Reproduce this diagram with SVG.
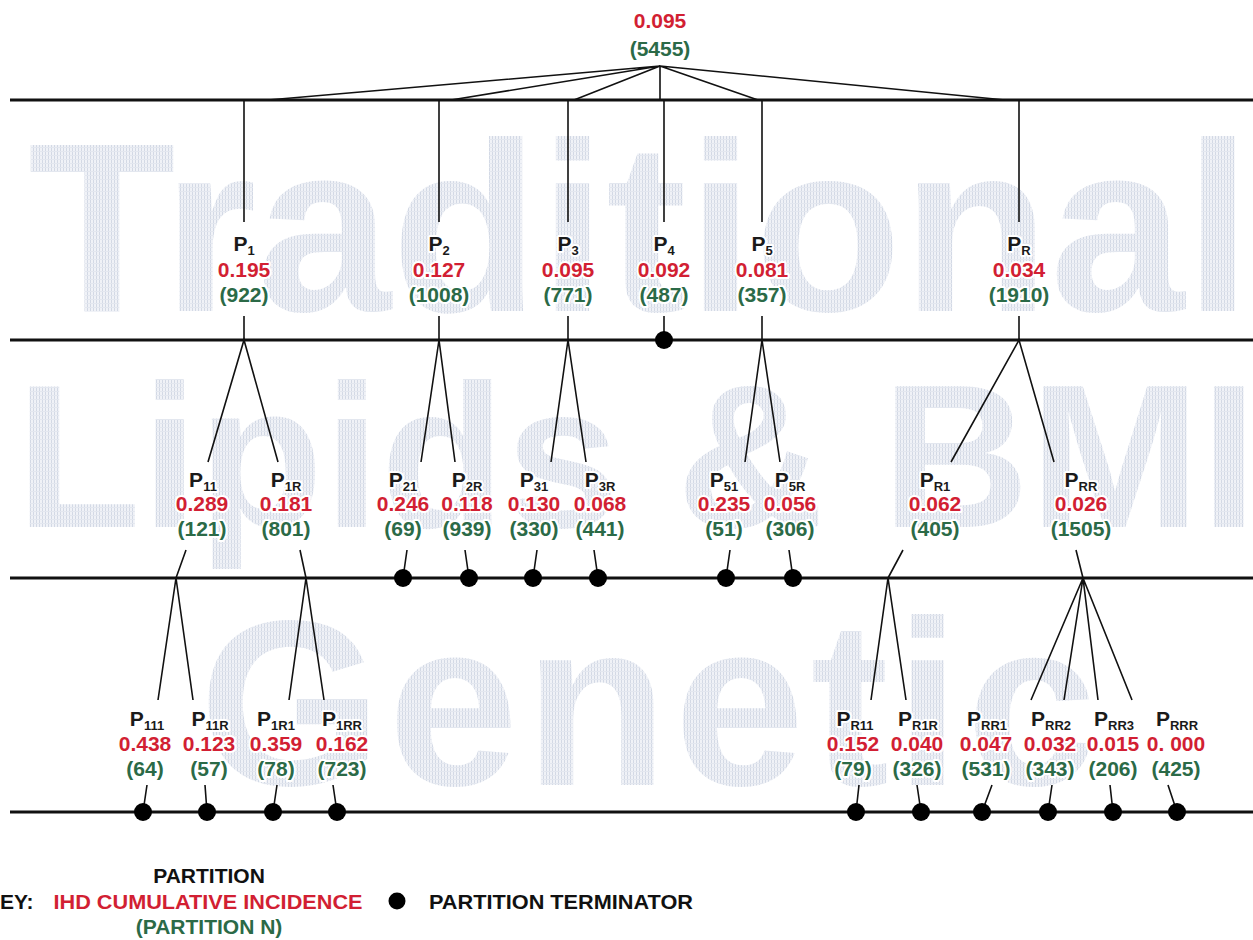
<svg xmlns="http://www.w3.org/2000/svg" width="1253" height="940" viewBox="0 0 1253 940">
<defs>
<pattern id="hatch" width="3" height="4" patternUnits="userSpaceOnUse">
<rect width="3" height="4" fill="#f0f2f7"/>
<rect width="1" height="4" fill="#d3d9e5"/>
<rect y="3" width="3" height="1" fill="#e3e7ef"/>
</pattern>
</defs>
<style>
.wm{font-family:"Liberation Sans",Arial,sans-serif;font-weight:bold;fill:url(#hatch)}
.hl{stroke:#111;stroke-width:3;fill:none}
.ln{stroke:#111;stroke-width:1.6;fill:none}
.dot{fill:#000}
text.t{font-family:"Liberation Sans",Arial,sans-serif;font-weight:bold;text-anchor:middle;stroke:#fff;stroke-width:4;paint-order:stroke;stroke-linejoin:round}
.p{font-size:21px;fill:#1a1a1a}
.r{font-size:21px;fill:#d21f33}
.g{font-size:21px;fill:#2b6a47}
.s{font-size:13px}
.k{font-family:"Liberation Sans",Arial,sans-serif;font-weight:bold;font-size:21px}
</style>
<rect width="1253" height="940" fill="#fff"/>
<g id="watermark">
<text class="wm" x="28" y="311" font-size="242">Traditional</text>
<text class="wm" x="16" y="527" font-size="205">Lipids &amp; BMI</text>
<text class="wm" x="199" y="785" font-size="235" letter-spacing="6">Genetic</text>
</g>
<g id="levels">
<line class="hl" x1="10" y1="100" x2="1253" y2="100"/>
<line class="hl" x1="10" y1="340" x2="1253" y2="340"/>
<line class="hl" x1="10" y1="578" x2="1253" y2="578"/>
<line class="hl" x1="10" y1="812" x2="1253" y2="812"/>
</g>
<g id="connectors">
<path class="ln" d="M660 66L268 100M660 66L451 100M660 66L574 100M660 66V100M660 66L758 100M660 66L1005 100"/>
<path class="ln" d="M244 100V222M439 100V222M568 100V222M664 100V222M762 100V222M1019 100V222"/>
<path class="ln" d="M244 316V340M439 316V340M568 316V340M664 316V340M762 316V340M1019 316V340"/>
<path class="ln" d="M208 462L244 340L278 462M421 462L439 340L455 462M551 462L568 340L586 462M745 462L762 340L780 462M951 462L1019 340L1054 462"/>
<path class="ln" d="M407 550L403 578M465 550L469 578M537 550L533 578M594 550L598 578M730 550L726 578M789 550L793 578"/>
<path class="ln" d="M186 550L176 578M158 700L176 578L193 700M300 550L306 578M289 700L306 578L324 700"/>
<path class="ln" d="M903 550L888 578M871 700L888 578L906 700M1076 550L1083 578M1031 700L1083 578L1064 700M1098 700L1083 578L1132 700"/>
<path class="ln" d="M147 785L143 812M205 785L207 812M277 785L273 812M333 785L337 812M859 785L856 812M917 785L921 812M992 785L982 812M1052 785L1048 812M1110 785L1113 812M1168 785L1177 812"/>
</g>
<g id="terminators">
<circle class="dot" cx="664" cy="340" r="9"/>
<circle class="dot" cx="403" cy="578" r="9"/>
<circle class="dot" cx="469" cy="578" r="9"/>
<circle class="dot" cx="533" cy="578" r="9"/>
<circle class="dot" cx="598" cy="578" r="9"/>
<circle class="dot" cx="726" cy="578" r="9"/>
<circle class="dot" cx="793" cy="578" r="9"/>
<circle class="dot" cx="143" cy="812" r="9"/>
<circle class="dot" cx="207" cy="812" r="9"/>
<circle class="dot" cx="273" cy="812" r="9"/>
<circle class="dot" cx="337" cy="812" r="9"/>
<circle class="dot" cx="856" cy="812" r="9"/>
<circle class="dot" cx="921" cy="812" r="9"/>
<circle class="dot" cx="982" cy="812" r="9"/>
<circle class="dot" cx="1048" cy="812" r="9"/>
<circle class="dot" cx="1113" cy="812" r="9"/>
<circle class="dot" cx="1177" cy="812" r="9"/>
</g>
<g id="root">
<text class="t r" x="660" y="28">0.095</text>
<text class="t g" x="660" y="56">(5455)</text>
</g>
<g id="P1"><text class="t p" x="244" y="251">P<tspan class="s" dy="4">1</tspan></text><text class="t r" x="244" y="277">0.195</text><text class="t g" x="244" y="302">(922)</text></g>
<g id="P2"><text class="t p" x="439" y="251">P<tspan class="s" dy="4">2</tspan></text><text class="t r" x="439" y="277">0.127</text><text class="t g" x="439" y="302">(1008)</text></g>
<g id="P3"><text class="t p" x="568" y="251">P<tspan class="s" dy="4">3</tspan></text><text class="t r" x="568" y="277">0.095</text><text class="t g" x="568" y="302">(771)</text></g>
<g id="P4"><text class="t p" x="664" y="251">P<tspan class="s" dy="4">4</tspan></text><text class="t r" x="664" y="277">0.092</text><text class="t g" x="664" y="302">(487)</text></g>
<g id="P5"><text class="t p" x="762" y="251">P<tspan class="s" dy="4">5</tspan></text><text class="t r" x="762" y="277">0.081</text><text class="t g" x="762" y="302">(357)</text></g>
<g id="PR"><text class="t p" x="1019" y="251">P<tspan class="s" dy="4">R</tspan></text><text class="t r" x="1019" y="277">0.034</text><text class="t g" x="1019" y="302">(1910)</text></g>
<g id="P11"><text class="t p" x="203" y="487">P<tspan class="s" dy="4">11</tspan></text><text class="t r" x="202" y="511">0.289</text><text class="t g" x="202" y="536">(121)</text></g>
<g id="P1R"><text class="t p" x="286" y="487">P<tspan class="s" dy="4">1R</tspan></text><text class="t r" x="286" y="511">0.181</text><text class="t g" x="286" y="536">(801)</text></g>
<g id="P21"><text class="t p" x="403" y="487">P<tspan class="s" dy="4">21</tspan></text><text class="t r" x="403" y="511">0.246</text><text class="t g" x="403" y="536">(69)</text></g>
<g id="P2R"><text class="t p" x="467" y="487">P<tspan class="s" dy="4">2R</tspan></text><text class="t r" x="467" y="511">0.118</text><text class="t g" x="467" y="536">(939)</text></g>
<g id="P31"><text class="t p" x="534" y="487">P<tspan class="s" dy="4">31</tspan></text><text class="t r" x="534" y="511">0.130</text><text class="t g" x="534" y="536">(330)</text></g>
<g id="P3R"><text class="t p" x="600" y="487">P<tspan class="s" dy="4">3R</tspan></text><text class="t r" x="600" y="511">0.068</text><text class="t g" x="600" y="536">(441)</text></g>
<g id="P51"><text class="t p" x="724" y="487">P<tspan class="s" dy="4">51</tspan></text><text class="t r" x="724" y="511">0.235</text><text class="t g" x="724" y="536">(51)</text></g>
<g id="P5R"><text class="t p" x="790" y="487">P<tspan class="s" dy="4">5R</tspan></text><text class="t r" x="790" y="511">0.056</text><text class="t g" x="790" y="536">(306)</text></g>
<g id="PR1"><text class="t p" x="935" y="487">P<tspan class="s" dy="4">R1</tspan></text><text class="t r" x="935" y="511">0.062</text><text class="t g" x="935" y="536">(405)</text></g>
<g id="PRR"><text class="t p" x="1081" y="487">P<tspan class="s" dy="4">RR</tspan></text><text class="t r" x="1081" y="511">0.026</text><text class="t g" x="1081" y="536">(1505)</text></g>
<g id="P111"><text class="t p" x="147" y="726">P<tspan class="s" dy="4">111</tspan></text><text class="t r" x="145" y="751">0.438</text><text class="t g" x="145" y="776">(64)</text></g>
<g id="P11R"><text class="t p" x="210" y="726">P<tspan class="s" dy="4">11R</tspan></text><text class="t r" x="209" y="751">0.123</text><text class="t g" x="209" y="776">(57)</text></g>
<g id="P1R1"><text class="t p" x="276" y="726">P<tspan class="s" dy="4">1R1</tspan></text><text class="t r" x="276" y="751">0.359</text><text class="t g" x="276" y="776">(78)</text></g>
<g id="P1RR"><text class="t p" x="342" y="726">P<tspan class="s" dy="4">1RR</tspan></text><text class="t r" x="342" y="751">0.162</text><text class="t g" x="342" y="776">(723)</text></g>
<g id="PR11"><text class="t p" x="855" y="726">P<tspan class="s" dy="4">R11</tspan></text><text class="t r" x="853" y="751">0.152</text><text class="t g" x="853" y="776">(79)</text></g>
<g id="PR1R"><text class="t p" x="918" y="726">P<tspan class="s" dy="4">R1R</tspan></text><text class="t r" x="917" y="751">0.040</text><text class="t g" x="917" y="776">(326)</text></g>
<g id="PRR1"><text class="t p" x="987" y="726">P<tspan class="s" dy="4">RR1</tspan></text><text class="t r" x="986" y="751">0.047</text><text class="t g" x="986" y="776">(531)</text></g>
<g id="PRR2"><text class="t p" x="1051" y="726">P<tspan class="s" dy="4">RR2</tspan></text><text class="t r" x="1050" y="751">0.032</text><text class="t g" x="1050" y="776">(343)</text></g>
<g id="PRR3"><text class="t p" x="1114" y="726">P<tspan class="s" dy="4">RR3</tspan></text><text class="t r" x="1113" y="751">0.015</text><text class="t g" x="1113" y="776">(206)</text></g>
<g id="PRRR"><text class="t p" x="1177" y="726">P<tspan class="s" dy="4">RRR</tspan></text><text class="t r" x="1176" y="751">0. 000</text><text class="t g" x="1176" y="776">(425)</text></g>
<g id="key">
<text class="k" x="209" y="883" text-anchor="middle" fill="#111">PARTITION</text>
<text class="k" x="0" y="909" fill="#111">EY:</text>
<text class="k" x="208" y="909" text-anchor="middle" fill="#d21f33" textLength="309" lengthAdjust="spacingAndGlyphs">IHD CUMULATIVE INCIDENCE</text>
<text class="k" x="209" y="934" text-anchor="middle" fill="#2b6a47">(PARTITION N)</text>
<circle class="dot" cx="397" cy="901" r="8.5"/>
<text class="k" x="429" y="909" fill="#111" textLength="264" lengthAdjust="spacingAndGlyphs">PARTITION TERMINATOR</text>
</g>
</svg>
